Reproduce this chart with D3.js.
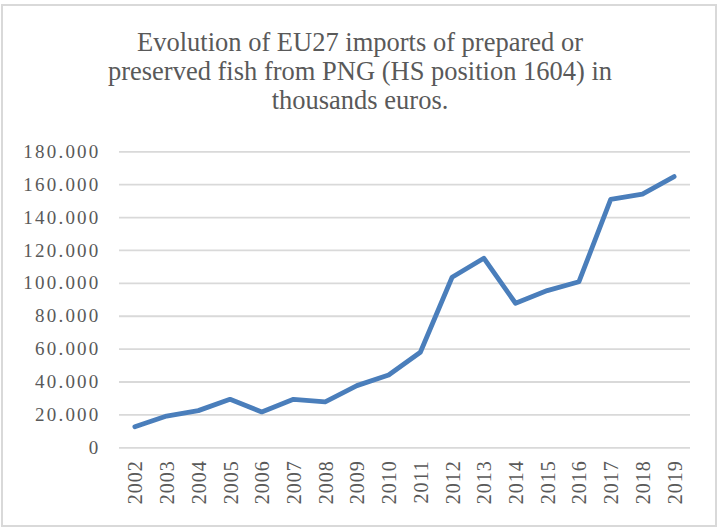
<!DOCTYPE html>
<html>
<head>
<meta charset="utf-8">
<script src="https://cdn.jsdelivr.net/npm/d3@7"></script>
<style>
  body { margin: 0; background: #fff; }
  svg { display: block; }
</style>
</head>
<body>
<script>
// data (thousands of euros, shown as "x.000")
const years = ["2002", "2003", "2004", "2005", "2006", "2007", "2008", "2009", "2010",
  "2011", "2012", "2013", "2014", "2015", "2016", "2017", "2018", "2019"];
const imports = [12.5, 19, 22.3, 29.2, 21.5, 29.2, 27.6, 37.5, 44, 57.8,
  103.4, 115, 87.6, 95.3, 100.7, 150.8, 153.9, 164.6];
const yTicks = [0, 20, 40, 60, 80, 100, 120, 140, 160, 180];
const titleLines = [
  "Evolution of EU27 imports of prepared or",
  "preserved fish from PNG (HS position 1604) in",
  "thousands euros."
];

const W = 718, H = 528;
const margin = {top: 151.3, right: 28, bottom: 80.7, left: 119};
const width = W - margin.left - margin.right;
const height = H - margin.top - margin.bottom;

const svg = d3.select("body").append("svg")
  .attr("width", W)
  .attr("height", H);

// chart frame
svg.append("rect")
  .attr("x", 2).attr("y", 5)
  .attr("width", 714).attr("height", 521)
  .attr("fill", "#fff")
  .attr("stroke", "#d9d9d9")
  .attr("stroke-width", 2);

// title
svg.append("text")
  .attr("text-anchor", "middle")
  .style("font-family", "'Liberation Serif', 'Times New Roman', serif")
  .style("font-size", "26.5px")
  .attr("fill", "#595959")
  .selectAll("tspan")
  .data(titleLines)
  .enter().append("tspan")
    .attr("x", 360)
    .attr("y", (d, i) => 51 + i * 29)
    .text(d => d);

const g = svg.append("g")
  .attr("transform", "translate(" + margin.left + "," + margin.top + ")");

const x = d3.scalePoint()
  .domain(years)
  .range([0, width])
  .padding(0.5);

const y = d3.scaleLinear()
  .domain([0, 180])
  .range([height, 0]);

// y axis with gridlines
const yAxis = d3.axisLeft(y)
  .tickValues(yTicks)
  .tickFormat(d => d === 0 ? "0" : d + ".000")
  .tickSizeInner(-width)
  .tickSizeOuter(0)
  .tickPadding(18.5);

const yg = g.append("g").call(yAxis);
yg.select(".domain").remove();
yg.selectAll(".tick line")
  .attr("stroke", "#d9d9d9")
  .attr("stroke-width", 1.8);
yg.selectAll(".tick text")
  .attr("fill", "#595959")
  .style("font-family", "'Liberation Serif', 'Times New Roman', serif")
  .style("font-size", "19px")
  .style("letter-spacing", "2.2px");

// x axis, labels rotated
const xAxis = d3.axisBottom(x).tickSize(0);
const xg = g.append("g")
  .attr("transform", "translate(0," + height + ")")
  .call(xAxis);
xg.select(".domain").remove();
xg.selectAll(".tick text")
  .attr("fill", "#595959")
  .attr("y", 0)
  .attr("x", -13)
  .attr("dy", "0.35em")
  .attr("transform", "rotate(-90)")
  .style("text-anchor", "end")
  .style("font-family", "'Liberation Serif', 'Times New Roman', serif")
  .style("font-size", "20px")
  .style("letter-spacing", "1px");

// the line
const line = d3.line()
  .x((d, i) => x(years[i]))
  .y(d => y(d));

g.append("path")
  .datum(imports)
  .attr("fill", "none")
  .attr("stroke", "#4a7ebb")
  .attr("stroke-width", 4.8)
  .attr("stroke-linejoin", "round")
  .attr("stroke-linecap", "round")
  .attr("d", line);
</script>
</body>
</html>
